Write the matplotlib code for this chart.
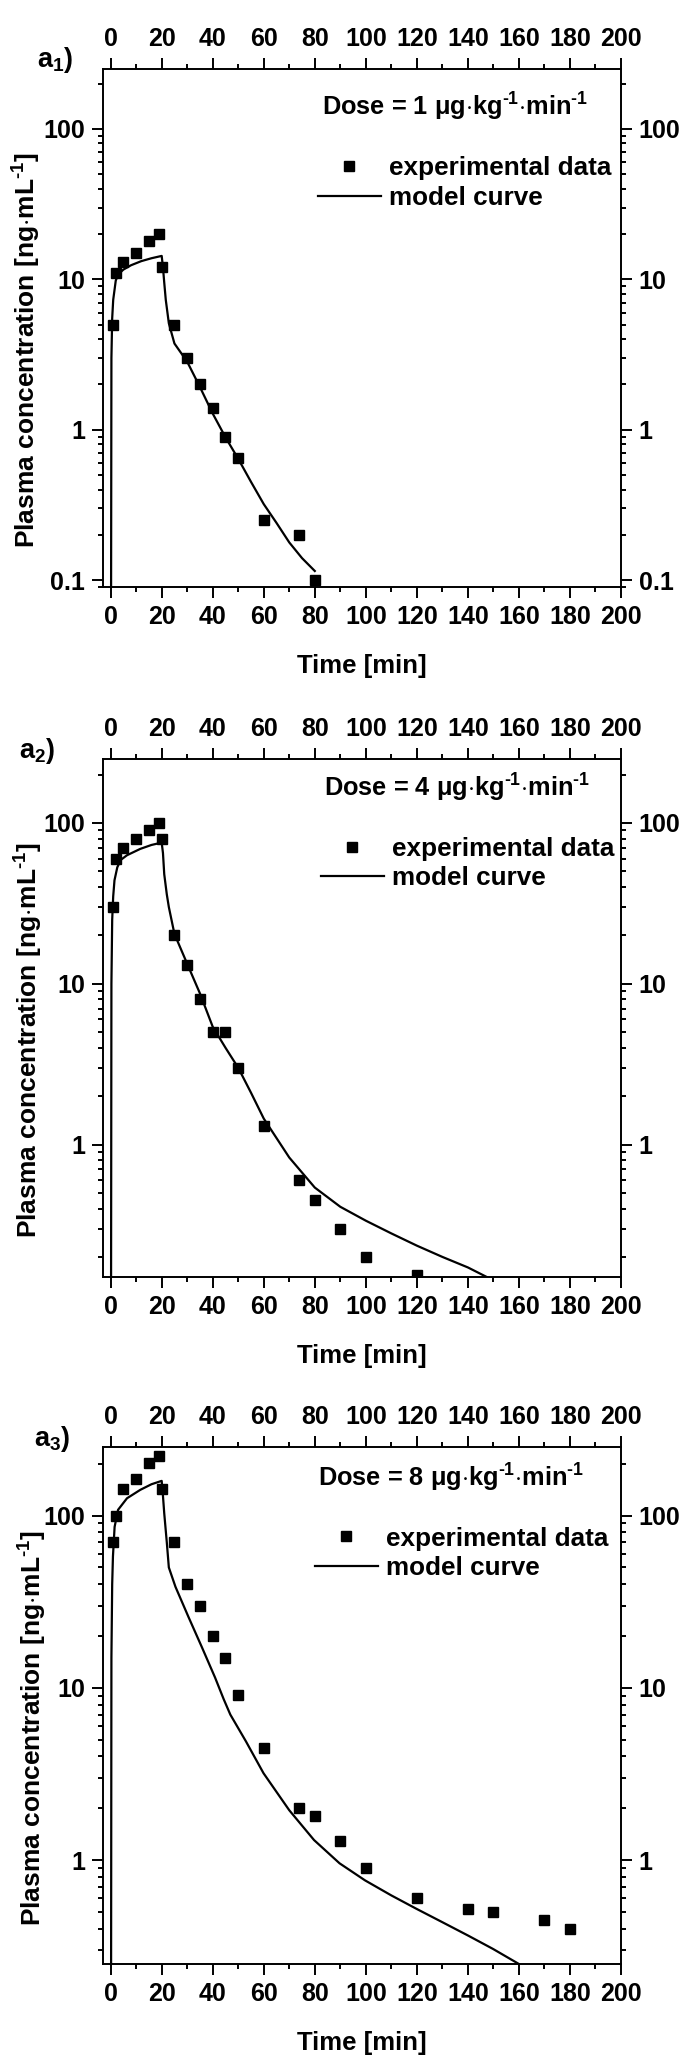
import numpy as np
import matplotlib
matplotlib.use("Agg")
import matplotlib.pyplot as plt
from matplotlib.ticker import FixedLocator, MultipleLocator, LogLocator, NullFormatter, FixedFormatter
from matplotlib.lines import Line2D

plt.rcParams['font.family'] = ['Liberation Sans', 'DejaVu Sans']
plt.rcParams['font.weight'] = 'bold'
plt.rcParams['mathtext.fontset'] = 'custom'
plt.rcParams['mathtext.rm'] = 'Liberation Sans:bold'
plt.rcParams['mathtext.it'] = 'Liberation Sans:bold'
plt.rcParams['mathtext.bf'] = 'Liberation Sans:bold'

# ---------------- data ----------------
doses = ["1", "4", "8"]
panel_labels = [r"a$_1$)", r"a$_2$)", r"a$_3$)"]

exp_t1 = [1, 2, 5, 10, 15, 19, 20, 25, 30, 35, 40, 45, 50, 60, 74, 80]
exp_c1 = [5, 11, 13, 15, 18, 20, 12, 5, 3, 2, 1.4, 0.9, 0.65, 0.25, 0.2, 0.1]

exp_t2 = [1, 2, 5, 10, 15, 19, 20, 25, 30, 35, 40, 45, 50, 60, 74, 80, 90, 100, 120]
exp_c2 = [30, 60, 70, 80, 90, 100, 80, 20, 13, 8, 5, 5, 3, 1.3, 0.6, 0.45, 0.3, 0.2, 0.155]

exp_t3 = [1, 2, 5, 10, 15, 19, 20, 25, 30, 35, 40, 45, 50, 60, 74, 80, 90, 100, 120, 140, 150, 170, 180]
exp_c3 = [70, 100, 142, 163, 202, 221, 142, 70, 40, 30, 20, 15, 9.1, 4.5, 2.0, 1.8, 1.3, 0.9, 0.6, 0.52, 0.5, 0.45, 0.4]

mod_t1 = [0, 0.3, 0.6, 1, 2, 3, 5, 8, 12, 16, 20, 20.5, 21, 21.6, 22.8, 25, 30, 35, 40, 45, 50, 55, 60, 65, 70, 75, 80]
mod_c1 = [0.001, 3, 5.5, 7.3, 9.8, 10.8, 11.6, 12.4, 13.2, 13.8, 14.3, 12, 9.5, 7.3, 5.1, 3.74, 2.83, 1.92, 1.28, 0.89, 0.64, 0.45, 0.32, 0.24, 0.178, 0.14, 0.115]

mod_t2 = [0, 0.3, 0.6, 1, 1.5, 2.6, 4, 6.4, 11.6, 16, 20, 20.5, 21, 22, 22.8, 25, 30, 35, 40, 45, 50, 55, 60, 70, 80, 90, 100, 110, 120, 130, 140, 147.4]
mod_c2 = [0.001, 10, 25, 35, 44, 53, 59, 63, 69, 73, 75.5, 65, 48, 36, 30, 20.4, 13.3, 8.7, 5.4, 4.0, 3.0, 2.1, 1.45, 0.83, 0.54, 0.41, 0.336, 0.28, 0.235, 0.2, 0.172, 0.15]

mod_t3 = [0, 0.3, 0.6, 0.9, 1.55, 2.9, 6.4, 11.6, 16, 20, 20.5, 21, 22, 22.8, 25.4, 30.5, 35.7, 40.9, 44.3, 46.9, 53, 59.9, 70, 79.7, 89.7, 99.7, 110, 119.8, 130, 140, 149.8, 160]
mod_c3 = [0.001, 15, 40, 58, 86, 108, 126, 141, 152, 159, 130, 103, 70, 50, 38.6, 25.8, 17.3, 11.5, 8.6, 7.0, 4.9, 3.2, 1.95, 1.31, 0.96, 0.764, 0.625, 0.523, 0.437, 0.366, 0.306, 0.25]

ylims = [(0.09, 250), (0.15, 250), (0.25, 250)]
xticks = list(range(0, 201, 20))
yticks = [0.1, 1, 10, 100]
ytick_labels = ["0.1", "1", "10", "100"]

exp_t = [exp_t1, exp_t2, exp_t3]
exp_c = [exp_c1, exp_c2, exp_c3]
mod_t = [mod_t1, mod_t2, mod_t3]
mod_c = [mod_c1, mod_c2, mod_c3]

# ---------------- layout ----------------
W, H = 690, 2068
fig = plt.figure(figsize=(W / 100, H / 100), dpi=100)

# pixel boxes: (left, top, right, bottom)
boxes = [(103, 69, 621, 587), (103, 759, 621, 1277), (103, 1447, 621, 1964)]
dose_pos = [(0.936, 0.911), (0.940, 0.927), (0.929, 0.924)]
leg_pos = [(0.415, 0.832), (0.421, 0.850), (0.409, 0.846)]
lab_pos = [(-0.128, 1.004), (-0.162, 1.002), (-0.133, 1.0025)]
ylab_x = [-0.116, -0.112, -0.104]

FS = 18
SUP = r"$^{\text{-1}}$"
for i in range(3):
    l, t, r, b = boxes[i]
    ax = fig.add_axes([l / W, 1 - b / H, (r - l) / W, (b - t) / H])
    ax.set_yscale('log')
    ax.set_xlim(-3, 200)
    ax.set_ylim(*ylims[i])

    ax.plot(mod_t[i], mod_c[i], color='black', lw=1.6, solid_joinstyle='round')
    ax.plot(exp_t[i], exp_c[i], ls='none', marker='s', ms=7.8, color='black')

    ax.xaxis.set_major_locator(FixedLocator(xticks))
    ax.xaxis.set_minor_locator(MultipleLocator(10))
    ax.yaxis.set_major_locator(FixedLocator(yticks))
    ax.yaxis.set_major_formatter(FixedFormatter(ytick_labels))
    ax.yaxis.set_minor_locator(LogLocator(base=10, subs=np.arange(2, 10)))
    ax.yaxis.set_minor_formatter(NullFormatter())

    ax.tick_params(which='both', direction='out', top=True, right=True,
                   labeltop=True, labelright=True, width=1.4, labelsize=FS)
    ax.tick_params(which='major', length=7.7)
    ax.tick_params(which='minor', length=3.4)
    ax.tick_params(axis='x', which='major', pad=5)
    ax.tick_params(axis='y', which='major', pad=5)
    for lab in ax.get_xticklabels() + ax.get_yticklabels():
        lab.set_fontweight('bold')
    for s in ax.spines.values():
        s.set_linewidth(1.4)

    ax.set_xlabel("Time [min]", fontsize=18.5, fontweight='bold', labelpad=18)
    ax.set_ylabel(r"Plasma concentration [ng$\cdot$mL" + SUP + "]", fontsize=19, fontweight='bold')
    ax.yaxis.set_label_coords(ylab_x[i], 0.457)

    ax.text(dose_pos[i][0], dose_pos[i][1],
            "Dose = " + doses[i] + r" μg$\cdot$kg" + SUP + r"$\cdot$min" + SUP,
            transform=ax.transAxes, ha='right', va='baseline', fontsize=18.3, fontweight='bold')
    ax.text(lab_pos[i][0], lab_pos[i][1], panel_labels[i], transform=ax.transAxes,
            ha='left', va='baseline', fontsize=19.5, fontweight='bold')

    h1 = Line2D([], [], ls='none', marker='s', ms=7.8, color='black')
    h2 = Line2D([], [], color='black', lw=1.6)
    ax.legend([h1, h2], ["experimental data", "model curve"], loc='upper left',
              bbox_to_anchor=leg_pos[i], frameon=False,
              borderaxespad=0, borderpad=0, handlelength=2.4, handletextpad=0.33,
              labelspacing=0.22, prop={'weight': 'bold', 'size': 18.8})

fig.savefig("out.png", dpi=100)
